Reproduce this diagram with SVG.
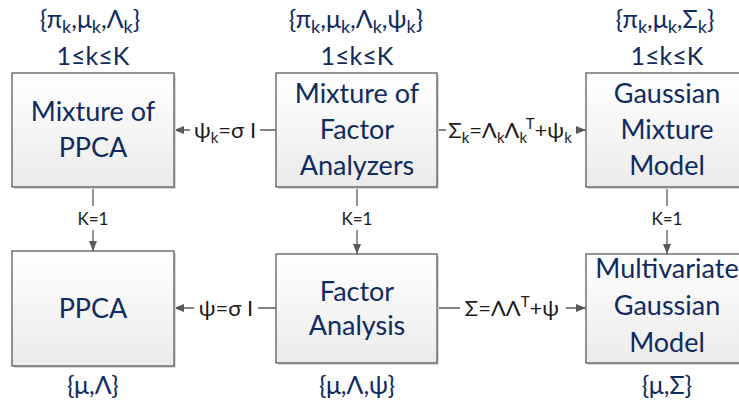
<svg xmlns="http://www.w3.org/2000/svg" width="739" height="406" viewBox="0 0 739 406">
<defs>
<linearGradient id="g" x1="0" y1="0" x2="0" y2="1">
<stop offset="0" stop-color="#ffffff"/>
<stop offset="1" stop-color="#ebebeb"/>
</linearGradient>
<marker id="ah" viewBox="0 0 10 10" refX="10" refY="5" markerWidth="10" markerHeight="10" markerUnits="userSpaceOnUse" orient="auto">
<path d="M0,1 L10,5 L0,9 z" fill="#595959"/>
</marker>
</defs>
<style>
.box{fill:url(#g);stroke:#5a5a5a;stroke-width:1.3}
.sh{fill:#d9d9d9}
.t{font-family:Lato,"Liberation Sans",sans-serif;fill:#102b60;text-anchor:middle;font-size:27px}
.p{font-family:Lato,"Liberation Sans",sans-serif;fill:#102b60;text-anchor:middle;font-size:25px}
.c{font-family:Lato,"Liberation Sans",sans-serif;fill:#1a1a1a;text-anchor:middle;font-size:22px}
.k{font-family:Lato,"Liberation Sans",sans-serif;fill:#1a1a1a;text-anchor:middle;font-size:17px}
.ln{stroke:#595959;stroke-width:1.3;fill:none}
.bg{fill:#ffffff}
</style>
<g id="params">
<text class="p" x="90" y="28">{π<tspan font-size="18" dy="5">k</tspan><tspan dy="-5">,μ</tspan><tspan font-size="18" dy="5">k</tspan><tspan dy="-5">,Λ</tspan><tspan font-size="18" dy="5">k</tspan><tspan dy="-5">}</tspan></text>
<text class="p" x="93" y="65">1≤k≤K</text>
<text class="p" x="356" y="28">{π<tspan font-size="18" dy="5">k</tspan><tspan dy="-5">,μ</tspan><tspan font-size="18" dy="5">k</tspan><tspan dy="-5">,Λ</tspan><tspan font-size="18" dy="5">k</tspan><tspan dy="-5">,ψ</tspan><tspan font-size="18" dy="5">k</tspan><tspan dy="-5">}</tspan></text>
<text class="p" x="357" y="65">1≤k≤K</text>
<text class="p" x="665" y="28">{π<tspan font-size="18" dy="5">k</tspan><tspan dy="-5">,μ</tspan><tspan font-size="18" dy="5">k</tspan><tspan dy="-5">,Σ</tspan><tspan font-size="18" dy="5">k</tspan><tspan dy="-5">}</tspan></text>
<text class="p" x="667" y="65">1≤k≤K</text>
<text class="p" x="93" y="394">{μ,Λ}</text>
<text class="p" x="357" y="394">{μ,Λ,ψ}</text>
<text class="p" x="667" y="394">{μ,Σ}</text>
</g>
<g id="connectors">
<line class="ln" x1="93" y1="187" x2="93" y2="251" marker-end="url(#ah)"/>
<rect class="bg" x="71" y="206" width="44" height="24"/>
<text class="k" x="93" y="225">K=1</text>
<line class="ln" x1="357" y1="187" x2="357" y2="254" marker-end="url(#ah)"/>
<rect class="bg" x="335" y="206" width="44" height="24"/>
<text class="k" x="357" y="225">K=1</text>
<line class="ln" x1="667" y1="187" x2="667" y2="254" marker-end="url(#ah)"/>
<rect class="bg" x="645" y="206" width="44" height="24"/>
<text class="k" x="667" y="225">K=1</text>
<line class="ln" x1="276" y1="130" x2="174" y2="130" marker-end="url(#ah)"/>
<rect class="bg" x="190" y="114" width="70" height="30"/>
<text class="c" x="225" y="138">ψ<tspan font-size="15" dy="5">k</tspan><tspan dy="-5">=σ I</tspan></text>
<line class="ln" x1="437" y1="130" x2="586" y2="130" marker-end="url(#ah)"/>
<rect class="bg" x="446" y="108" width="130" height="36"/>
<text class="c" x="510" y="138">Σ<tspan font-size="15" dy="5">k</tspan><tspan dy="-5">=Λ</tspan><tspan font-size="15" dy="5">k</tspan><tspan dy="-5">Λ</tspan><tspan font-size="15" dy="5">k</tspan><tspan font-size="15" dy="-14">T</tspan><tspan dy="9">+ψ</tspan><tspan font-size="15" dy="5">k</tspan></text>
<line class="ln" x1="276" y1="308" x2="174" y2="308" marker-end="url(#ah)"/>
<rect class="bg" x="194" y="292" width="64" height="30"/>
<text class="c" x="226" y="316">ψ=σ I</text>
<line class="ln" x1="437" y1="308" x2="586" y2="308" marker-end="url(#ah)"/>
<rect class="bg" x="460" y="288" width="106" height="36"/>
<text class="c" x="512" y="316">Σ=ΛΛ<tspan font-size="15" dy="-9">T</tspan><tspan dy="9">+ψ</tspan></text>
</g>
<g id="mppca">
<rect class="sh" x="14" y="75" width="162" height="114"/>
<rect class="box" x="12" y="73" width="162" height="114"/>
<text class="t" x="93" y="121">Mixture of</text>
<text class="t" x="93" y="157">PPCA</text>
</g>
<g id="mfa">
<rect class="sh" x="278" y="75" width="161" height="114"/>
<rect class="box" x="276" y="73" width="161" height="114"/>
<text class="t" x="357" y="103">Mixture of</text>
<text class="t" x="357" y="139">Factor</text>
<text class="t" x="357" y="175">Analyzers</text>
</g>
<g id="gmm">
<rect class="sh" x="588" y="75" width="162" height="114"/>
<rect class="box" x="586" y="73" width="162" height="114"/>
<text class="t" x="667" y="103">Gaussian</text>
<text class="t" x="667" y="139">Mixture</text>
<text class="t" x="667" y="175">Model</text>
</g>
<g id="ppca">
<rect class="sh" x="14" y="253" width="162" height="115"/>
<rect class="box" x="12" y="251" width="162" height="115"/>
<text class="t" x="93" y="318">PPCA</text>
</g>
<g id="fa">
<rect class="sh" x="278" y="256" width="161" height="109"/>
<rect class="box" x="276" y="254" width="161" height="109"/>
<text class="t" x="357" y="301">Factor</text>
<text class="t" x="357" y="335">Analysis</text>
</g>
<g id="mgm">
<rect class="sh" x="588" y="256" width="162" height="109"/>
<rect class="box" x="586" y="254" width="162" height="109"/>
<text class="t" x="667" y="278">Multivariate</text>
<text class="t" x="667" y="315">Gaussian</text>
<text class="t" x="667" y="352">Model</text>
</g>
</svg>
